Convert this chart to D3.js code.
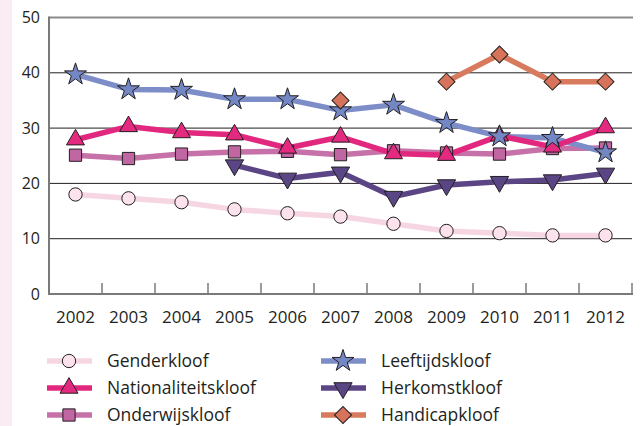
<!DOCTYPE html>
<html><head><meta charset="utf-8">
<script src="https://cdn.jsdelivr.net/npm/d3@7"></script>
<style>
html,body{margin:0;padding:0;background:#fff;}
svg{display:block;}
text{font-family:"Open Sans",sans-serif;fill:#231f20;}
</style></head>
<body><svg id="c" width="641" height="426"></svg>
<script>
const years = ["2002","2003","2004","2005","2006","2007","2008","2009","2010","2011","2012"];
const yTicks = [0,10,20,30,40,50];
const seriesNames = ["Genderkloof","Nationaliteitskloof","Onderwijskloof","Leeftijdskloof","Herkomstkloof","Handicapkloof"];
const genderkloof        = [18.0,17.3,16.6,15.3,14.6,14.0,12.7,11.4,11.0,10.6,10.6];
const nationaliteitskloof= [27.9,30.3,29.2,28.8,26.4,28.4,25.4,25.1,28.6,26.6,30.1];
const onderwijskloof     = [25.1,24.5,25.3,25.7,25.8,25.2,25.9,25.5,25.3,26.3,26.4];
const leeftijdskloof     = [39.7,37.0,36.9,35.2,35.2,33.2,34.2,30.9,28.5,28.2,25.6];
const herkomstkloof      = [null,null,null,23.3,20.9,22.0,17.6,19.7,20.3,20.6,21.8];
const handicapkloof      = [null,null,null,null,null,35.0,null,38.4,43.3,38.4,38.4];

const svg = d3.select("#c");
svg.append("rect").attr("x",0).attr("y",0).attr("width",12).attr("height",426).attr("fill","#f9edf3");

const x = d3.scaleBand().domain(years).range([49,632]);
const y = d3.scaleLinear().domain([0,50]).range([294,17.5]);

const styles = {
  Genderkloof:{line:"#f7d6e3",fill:"#fbe2ec",sym:d3.symbolCircle,size:140,rot:0},
  Nationaliteitskloof:{line:"#e2287e",fill:"#e42a80",sym:d3.symbolTriangle,size:140,rot:0},
  Onderwijskloof:{line:"#c672a9",fill:"#c066a3",sym:d3.symbolSquare,size:150,rot:0},
  Leeftijdskloof:{line:"#7d8dc8",fill:"#7487c5",sym:d3.symbolStar,size:150,rot:0},
  Herkomstkloof:{line:"#5b4585",fill:"#5a4585",sym:d3.symbolTriangle,size:145,rot:180},
  Handicapkloof:{line:"#d77a5d",fill:"#d6735a",sym:d3.symbolSquare,size:145,rot:45}
};
const data = {
  Genderkloof:genderkloof, Nationaliteitskloof:nationaliteitskloof, Onderwijskloof:onderwijskloof,
  Leeftijdskloof:leeftijdskloof, Herkomstkloof:herkomstkloof, Handicapkloof:handicapkloof
};

// gridlines
svg.append("g").selectAll("line").data([10,20,30,40]).join("line")
  .attr("x1",49).attr("x2",632).attr("y1",d=>y(d)).attr("y2",d=>y(d))
  .attr("stroke","#231f20").attr("stroke-width",1);
svg.append("line").attr("x1",49).attr("x2",633).attr("y1",y(50)).attr("y2",y(50))
  .attr("stroke","#8a8a8a").attr("stroke-width",2);

// axes
const yAxis = svg.append("g").attr("transform","translate(49,0)")
  .call(d3.axisLeft(y).tickValues(yTicks).tickSize(0).tickPadding(9));
yAxis.select(".domain").remove();
yAxis.selectAll("text").attr("font-size","16px").style("font-family","'Open Sans',sans-serif").attr("fill","#231f20");
svg.append("line").attr("x1",49).attr("x2",49).attr("y1",y(50)-1).attr("y2",y(0)+1)
  .attr("stroke","#7a7a7a").attr("stroke-width",2);

const xAxis = svg.append("g").attr("transform","translate(0,294)")
  .call(d3.axisBottom(x).tickSize(0).tickPadding(17));
xAxis.select(".domain").remove();
xAxis.selectAll("text").attr("font-size","17px").style("font-family","'Open Sans',sans-serif").attr("fill","#231f20");
svg.append("line").attr("x1",48).attr("x2",633).attr("y1",294).attr("y2",294)
  .attr("stroke","#7a7a7a").attr("stroke-width",2);
svg.append("g").selectAll("line").data(years).join("line")
  .attr("x1",d=>x(d)+x.bandwidth()).attr("x2",d=>x(d)+x.bandwidth())
  .attr("y1",294).attr("y2",283).attr("stroke","#7a7a7a").attr("stroke-width",1.5);

// lines
const lineGen = d3.line().defined(d=>d.v!=null).x(d=>x(d.yr)+x.bandwidth()/2).y(d=>y(d.v));
const lineOrder = ["Genderkloof","Onderwijskloof","Herkomstkloof","Leeftijdskloof","Nationaliteitskloof","Handicapkloof"];
const markerOrder = ["Genderkloof","Herkomstkloof","Onderwijskloof","Nationaliteitskloof","Leeftijdskloof","Handicapkloof"];
const pts = n => years.map((yr,i)=>({yr,v:data[n][i]}));
lineOrder.forEach(n=>{
  svg.append("path").datum(pts(n)).attr("d",lineGen).attr("fill","none")
    .attr("stroke",styles[n].line).attr("stroke-width",5.5).attr("stroke-linejoin","round");
});
markerOrder.forEach(n=>{
  const s = styles[n];
  svg.append("g").selectAll("path").data(pts(n).filter(d=>d.v!=null)).join("path")
    .attr("d",d3.symbol().type(s.sym).size(s.size)())
    .attr("transform",d=>`translate(${x(d.yr)+x.bandwidth()/2},${y(d.v)}) rotate(${s.rot})`)
    .attr("fill",s.fill).attr("stroke","#231f20").attr("stroke-width",1);
});

// legend
const legCols = [{lx:47,mx:69,tx:107},{lx:321,mx:343,tx:381}];
const legRows = [361,388,415];
const legItems = [
  ["Genderkloof",0,0],["Nationaliteitskloof",0,1],["Onderwijskloof",0,2],
  ["Leeftijdskloof",1,0],["Herkomstkloof",1,1],["Handicapkloof",1,2]
];
legItems.forEach(([n,c,r])=>{
  const s = styles[n], col = legCols[c], yy = legRows[r];
  const g = svg.append("g");
  g.append("line").attr("x1",col.lx).attr("x2",col.lx+45).attr("y1",yy).attr("y2",yy)
    .attr("stroke",s.line).attr("stroke-width",5.5);
  g.append("path").attr("d",d3.symbol().type(s.sym).size(s.size)())
    .attr("transform",`translate(${col.mx},${yy}) rotate(${s.rot})`)
    .attr("fill",s.fill).attr("stroke","#231f20").attr("stroke-width",1);
  g.append("text").attr("x",col.tx).attr("y",yy).attr("dy","0.36em")
    .attr("font-size","17.5px").text(n);
});
</script></body></html>
